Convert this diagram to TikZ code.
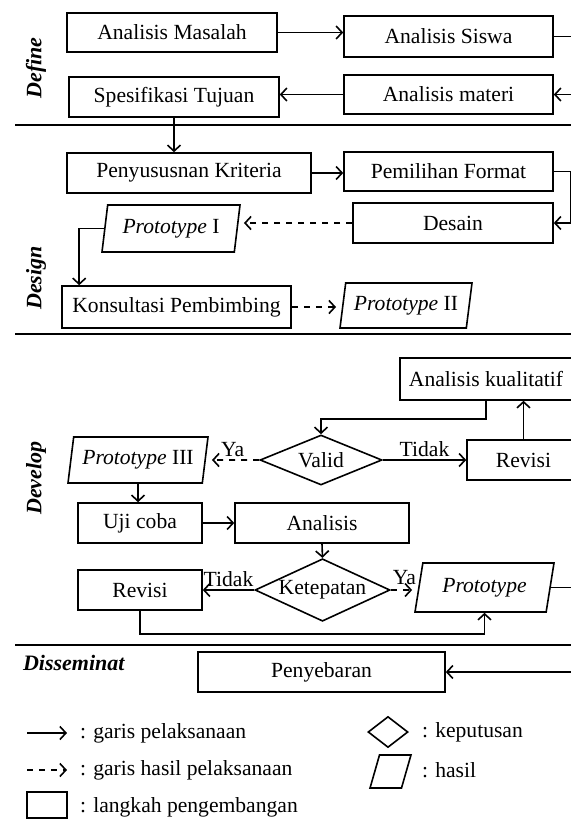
\documentclass[tikz,border=0pt]{standalone}
\usepackage{fontspec}
\setmainfont{Liberation Serif}
\usetikzlibrary{shapes.geometric,calc,arrows.meta}

\begin{document}
\begin{tikzpicture}[x=0.5pt, y=-0.5pt, >={Straight Barb[length=3pt,width=6.5pt]},
    langkah/.style={draw, rectangle, line width=0.8pt, inner sep=1pt},
    hasil/.style={draw, trapezium, trapezium left angle=76, trapezium right angle=104,
        trapezium stretches body, line width=0.8pt, inner sep=1pt},
    keputusan/.style={draw, diamond, aspect=2, inner sep=0pt, line width=0.8pt},
    tahap/.style={font=\fontsize{11}{12}\selectfont\bfseries\itshape},
    garis/.style={line width=1pt},
    jalur/.style={->, line width=0.8pt},
    jalurhasil/.style={->, dashed, line width=0.8pt, shorten >=3pt}]
\tikzstyle{every node}+=[font=\fontsize{10.8}{12}\selectfont]
\useasboundingbox (0,0) rectangle (571,819);

% define
\node[tahap, rotate=90] (define) at (36,68) {Define};
\node[langkah, minimum width=105pt, minimum height=19.5pt] (masalah) at (172,32.5) {Analisis Masalah};
\node[langkah, minimum width=104.5pt, minimum height=20.5pt] (siswa) at (448.5,36.5) {Analisis Siswa};
\node[langkah, minimum width=104.5pt, minimum height=19.5pt] (materi) at (448.5,94.5) {Analisis materi};
\node[langkah, minimum width=105pt, minimum height=20pt] (spesifikasi) at (174,97) {Spesifikasi Tujuan};
\draw[garis] (15,125) -- (571,125);

% design
\node[tahap, rotate=90] (design) at (36,278) {Design};
\node[langkah, minimum width=122pt, minimum height=20pt] (kriteria) at (189,173) {Penyususnan Kriteria};
\node[langkah, minimum width=104.5pt, minimum height=19.5pt] (format) at (448.5,171.5) {Pemilihan Format};
\node[langkah, minimum width=100pt, minimum height=20pt] (desain) at (453,223) {Desain};
\node[hasil, minimum width=69pt, minimum height=23.5pt] (proto1) at (171,228.5) {\textit{Prototype} I};
\node[langkah, minimum width=114.5pt, minimum height=21pt] (konsultasi) at (176.5,307) {Konsultasi Pembimbing};
\node[hasil, minimum width=66pt, minimum height=22.5pt] (proto2) at (406,305.5) {\textit{Prototype} II};
\draw[garis] (15,334) -- (571,334);

% develop
\node[tahap, rotate=90] (develop) at (36,478) {Develop};
\node[langkah, minimum width=86pt, minimum height=21pt] (kualitatif) at (486,379) {Analisis kualitatif};
\node[keputusan, minimum width=61pt, minimum height=25pt] (valid) at (321,460) {Valid};
\node[langkah, minimum width=56.5pt, minimum height=20pt] (revisi1) at (523.5,460) {Revisi};
\node[hasil, minimum width=70pt, minimum height=23pt] (proto3) at (138,460) {\textit{Prototype} III};
\node[langkah, minimum width=62pt, minimum height=20pt] (ujicoba) at (140,523) {Uji coba};
\node[langkah, minimum width=87pt, minimum height=20pt] (analisis) at (322,523) {Analisis};
\node[keputusan, minimum width=67.5pt, minimum height=30pt] (ketepatan) at (322.5,590) {Ketepatan};
\node[langkah, minimum width=62pt, minimum height=20pt] (revisi2) at (140,590) {Revisi};
\node[hasil, trapezium left angle=71, trapezium right angle=109,
    minimum width=69.5pt, minimum height=24.5pt] (proto4) at (484.5,587.5) {\textit{Prototype}};
\draw[garis] (15,645) -- (571,645);

% disseminat
\node[tahap, anchor=west] (disseminat) at (16,663) {Disseminat};
\node[langkah, minimum width=123.5pt, minimum height=20pt] (penyebaran) at (321.5,672) {Penyebaran};

% alur
\draw[jalur] (masalah.east) -- (masalah.east -| siswa.west);
\draw[jalur] (siswa.east) -- ++(22,0) |- (materi.east);
\draw[jalur] (materi.west) -- (materi.west -| spesifikasi.east);
\draw[jalur] (spesifikasi.south) -- (spesifikasi.south |- kriteria.north);
\draw[jalur] (kriteria.east) -- (kriteria.east -| format.west);
\draw[jalur] (format.east) -- ++(17,0) |- (desain.east);
\draw[jalurhasil] (desain.west) -- (desain.west -| proto1.east);
\draw[jalur] (proto1.west) -| ($(konsultasi.north west)+(18,0)$);
\draw[jalurhasil] (konsultasi.east) -- (konsultasi.east -| proto2.west);
\draw[jalur] (kualitatif.south) -- ++(0,18) -| (valid.north);
\draw[jalur] (revisi1.north) -- (revisi1.north |- kualitatif.south);
\draw[jalur] (valid.east) -- node[above, inner sep=1pt] (tidak1) {Tidak} (revisi1.west);
\draw[jalurhasil] (valid.west) -- node[above, inner sep=1pt] (ya1) {Ya} (proto3.east);
\draw[jalur] (proto3.south) -- (proto3.south |- ujicoba.north);
\draw[jalur] (ujicoba.east) -- (analisis.west);
\draw[jalur] (analisis.south) -- (ketepatan.north);
\draw[jalur] (ketepatan.west) -- node[above, inner sep=1pt] (tidak2) {Tidak} (revisi2.east);
\draw[jalurhasil] (ketepatan.east) -- node[above, inner sep=2pt] (ya2) {Ya} (ketepatan.east -| proto4.west);
\draw[jalur] (revisi2.south) -- ++(0,23) -| (proto4.south);
\draw[jalur] (proto4.east) -- ++(30,0) |- (penyebaran.east);

% keterangan
\coordinate (la1) at (27,733);
\coordinate (la2) at (67,733);
\coordinate (lb1) at (27,770);
\coordinate (lb2) at (67,770);
\draw[jalur] (la1) -- (la2);
\draw[jalurhasil, shorten >=0pt] (lb1) -- (lb2);
\node[anchor=west] (ket1) at (73,733) {: garis pelaksanaan};
\node[anchor=west] (ket2) at (73,770) {: garis hasil pelaksanaan};
\node[langkah, minimum width=20pt, minimum height=13pt] (lgkotak) at (47,805) {};
\node[anchor=west] (ket3) at (73,807) {: langkah pengembangan};
\node[keputusan, minimum width=20pt, minimum height=15.5pt] (lgbelah) at (388,732) {};
\node[anchor=west] (ket4) at (415,732) {: keputusan};
\node[hasil, trapezium left angle=74, trapezium right angle=106, trapezium stretches body=false,
    inner xsep=5.5pt, inner ysep=8.25pt] (lgjajar) at (390.5,771.5) {};
\node[anchor=west] (ket5) at (415,770) {: hasil};
\end{tikzpicture}
\end{document}
